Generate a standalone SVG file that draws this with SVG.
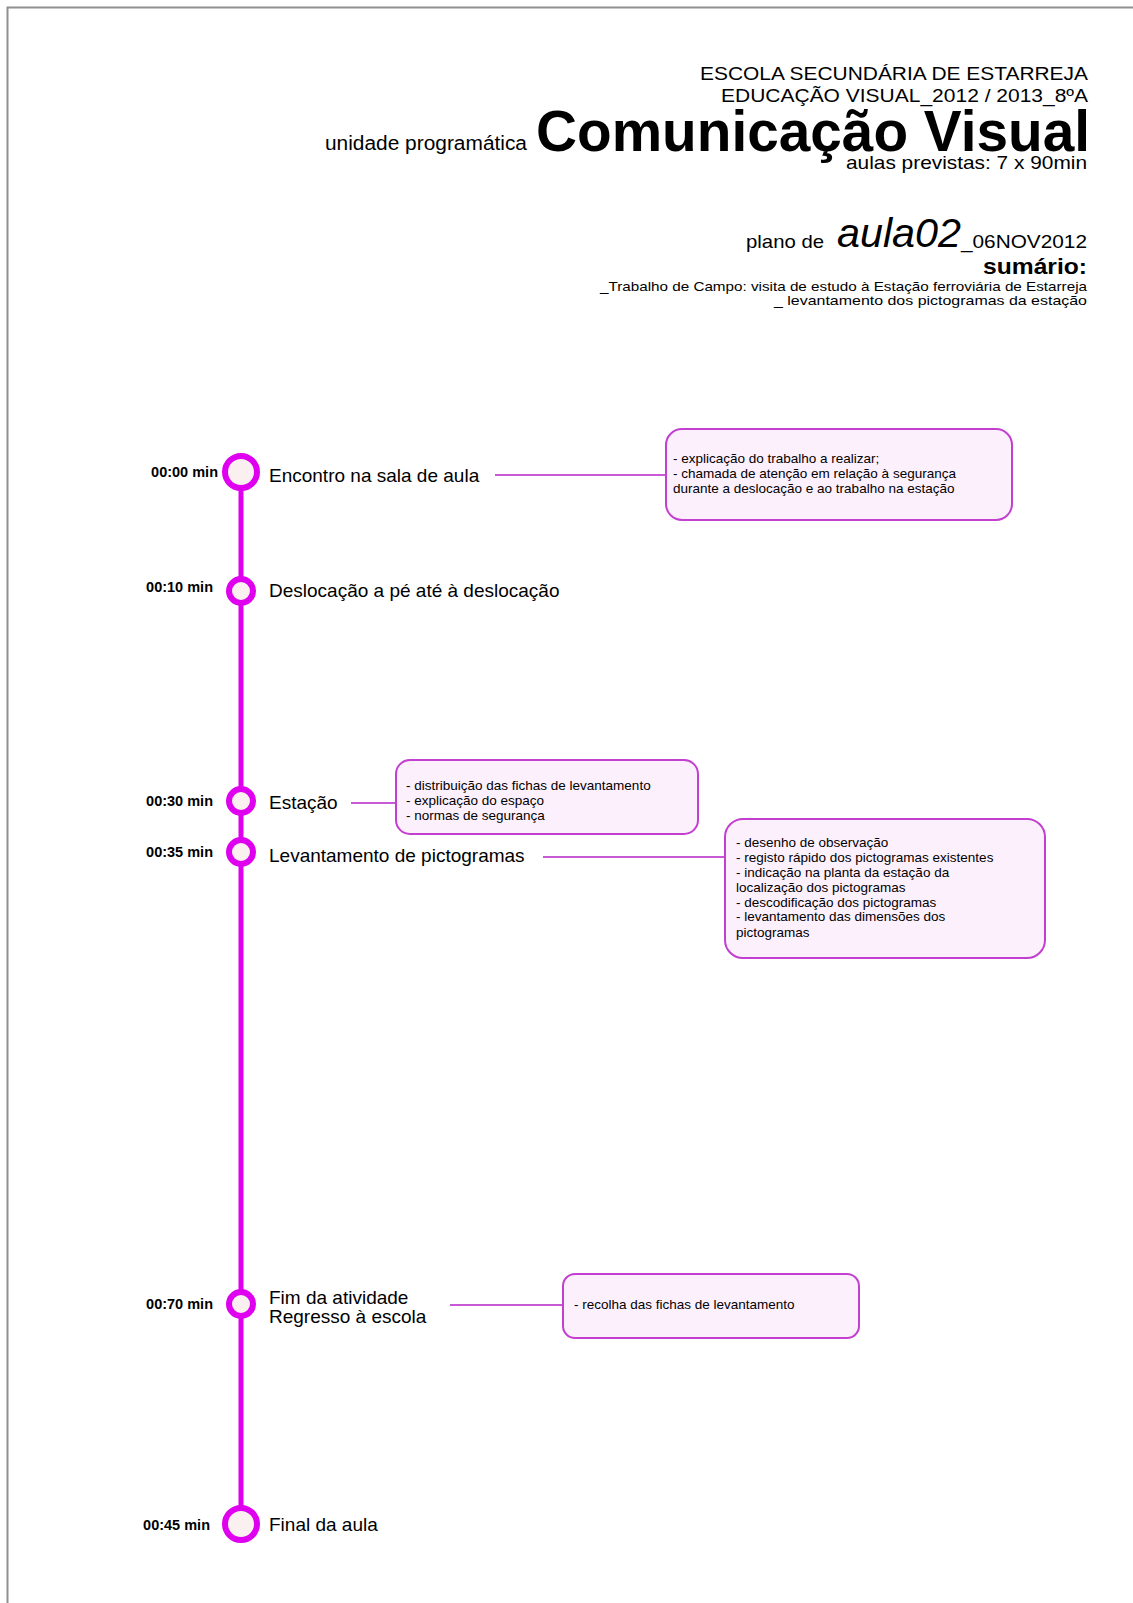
<svg xmlns="http://www.w3.org/2000/svg" width="1133" height="1603" viewBox="0 0 1133 1603">
  <style>
    text { font-family: "Liberation Sans", Arial, Helvetica, sans-serif; fill: #000; }
    .time { font-size: 14.5px; font-weight: bold; text-anchor: end; }
    .label { font-size: 19px; }
    .note { font-size: 13.5px; }
    .hdr { text-anchor: end; }
    .box { fill: #fdf0fd; stroke: #c23fd0; stroke-width: 2; }
    .link { stroke: #c85ad6; stroke-width: 2; fill: none; }
    .dot { fill: #faf0f0; stroke: #e000f0; stroke-width: 6; }
  </style>

  <rect x="0" y="0" width="1133" height="1603" fill="#ffffff"/>
  <!-- page frame -->
  <path d="M7.5 1603 V7.5 H1133" fill="none" stroke="#8f8f8f" stroke-width="2"/>

  <!-- header -->
  <g id="header">
    <text class="hdr" x="1088" y="80" font-size="18" textLength="388" lengthAdjust="spacingAndGlyphs">ESCOLA SECUNDÁRIA DE ESTARREJA</text>
    <text class="hdr" x="1088" y="102" font-size="18" textLength="367" lengthAdjust="spacingAndGlyphs">EDUCAÇÃO VISUAL_2012 / 2013_8ºA</text>
    <text x="325" y="150" font-size="20" textLength="202" lengthAdjust="spacingAndGlyphs">unidade programática</text>
    <text x="536" y="151" font-size="57" font-weight="bold" textLength="554" lengthAdjust="spacingAndGlyphs">Comunicação Visual</text>
    <text class="hdr" x="1087" y="169" font-size="18.5" textLength="241" lengthAdjust="spacingAndGlyphs">aulas previstas: 7 x 90min</text>
    <text x="746" y="248" font-size="19" textLength="78" lengthAdjust="spacingAndGlyphs">plano de</text>
    <text x="837" y="247" font-size="40" font-style="italic" textLength="124" lengthAdjust="spacingAndGlyphs">aula02</text>
    <text x="961" y="248" font-size="18" textLength="126" lengthAdjust="spacingAndGlyphs">_06NOV2012</text>
    <text class="hdr" x="1087" y="274" font-size="22" font-weight="bold" textLength="104" lengthAdjust="spacingAndGlyphs">sumário:</text>
    <text class="hdr" x="1087" y="291" font-size="13" textLength="487" lengthAdjust="spacingAndGlyphs">_Trabalho de Campo: visita de estudo à Estação ferroviária de Estarreja</text>
    <text class="hdr" x="1087" y="305" font-size="13" textLength="313" lengthAdjust="spacingAndGlyphs">_ levantamento dos pictogramas da estação</text>
  </g>

  <!-- timeline spine and links to notes -->
  <g id="connectors">
    <line x1="241" y1="472" x2="241" y2="1524" stroke="#e000f0" stroke-width="5"/>
    <line class="link" x1="495" y1="475" x2="666" y2="475"/>
    <line class="link" x1="351" y1="803" x2="396" y2="803"/>
    <line class="link" x1="543" y1="857" x2="725" y2="857"/>
    <line class="link" x1="450" y1="1305" x2="563" y2="1305"/>
  </g>

  <g id="step-0000">
    <circle class="dot" cx="241" cy="472" r="16"/>
    <text class="time" x="218" y="477">00:00 min</text>
    <text class="label" x="269" y="482">Encontro na sala de aula</text>
  </g>

  <g id="step-0010">
    <circle class="dot" cx="241" cy="591" r="12"/>
    <text class="time" x="213" y="592">00:10 min</text>
    <text class="label" x="269" y="597">Deslocação a pé até à deslocação</text>
  </g>

  <g id="step-0030">
    <circle class="dot" cx="241" cy="801" r="12"/>
    <text class="time" x="213" y="806">00:30 min</text>
    <text class="label" x="269" y="809">Estação</text>
  </g>

  <g id="step-0035">
    <circle class="dot" cx="241" cy="852" r="12"/>
    <text class="time" x="213" y="857">00:35 min</text>
    <text class="label" x="269" y="862">Levantamento de pictogramas</text>
  </g>

  <g id="step-0070">
    <circle class="dot" cx="241" cy="1304" r="12"/>
    <text class="time" x="213" y="1309">00:70 min</text>
    <text class="label" x="269" y="1304">Fim da atividade</text>
    <text class="label" x="269" y="1323">Regresso à escola</text>
  </g>

  <g id="step-0045">
    <circle class="dot" cx="241" cy="1524" r="16"/>
    <text class="time" x="210" y="1530">00:45 min</text>
    <text class="label" x="269" y="1531">Final da aula</text>
  </g>

  <g id="note-encontro">
    <rect class="box" x="666" y="429" width="346" height="91" rx="16"/>
    <text class="note" x="673" y="463">- explicação do trabalho a realizar;</text>
    <text class="note" x="673" y="478">- chamada de atenção em relação à segurança</text>
    <text class="note" x="673" y="493">durante a deslocação e ao trabalho na estação</text>
  </g>

  <g id="note-estacao">
    <rect class="box" x="396" y="760" width="302" height="74" rx="14"/>
    <text class="note" x="406" y="790">- distribuição das fichas de levantamento</text>
    <text class="note" x="406" y="805">- explicação do espaço</text>
    <text class="note" x="406" y="820">- normas de segurança</text>
  </g>

  <g id="note-levantamento">
    <rect class="box" x="725" y="819" width="320" height="139" rx="18"/>
    <text class="note" x="736" y="847">- desenho de observação</text>
    <text class="note" x="736" y="862">- registo rápido dos pictogramas existentes</text>
    <text class="note" x="736" y="877">- indicação na planta da estação da</text>
    <text class="note" x="736" y="892">localização dos pictogramas</text>
    <text class="note" x="736" y="907">- descodificação dos pictogramas</text>
    <text class="note" x="736" y="921">- levantamento das dimensões dos</text>
    <text class="note" x="736" y="937">pictogramas</text>
  </g>

  <g id="note-fim">
    <rect class="box" x="563" y="1274" width="296" height="64" rx="12"/>
    <text class="note" x="574" y="1309">- recolha das fichas de levantamento</text>
  </g>
</svg>
